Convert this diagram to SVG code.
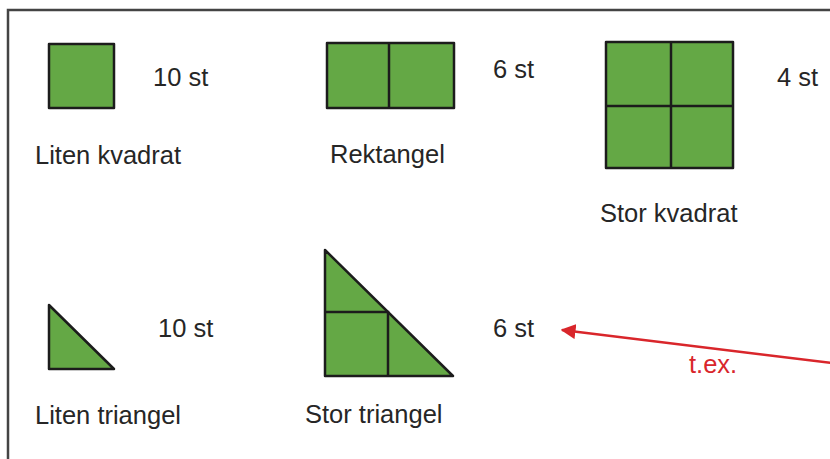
<svg xmlns="http://www.w3.org/2000/svg" width="830" height="459" viewBox="0 0 830 459">
<defs>
<style>
.shape{fill:#64a845;stroke:#1c1c1c;stroke-width:2.5;stroke-linejoin:round}
.div{fill:none;stroke:#1c1c1c;stroke-width:2.5}
text{font-family:"Liberation Sans",Arial,sans-serif;font-size:25.5px;fill:#262626}
.red{fill:#d9262b}
</style>
<marker id="ah" viewBox="0 0 10 10" refX="9" refY="5" markerWidth="6" markerHeight="6" orient="auto-start-reverse" markerUnits="strokeWidth">
<path d="M0,0 L10,5 L0,10 z" fill="#d9262b"/>
</marker>
</defs>
<rect width="830" height="459" fill="#ffffff"/>
<path d="M8,459 V10 H830" fill="none" stroke="#444" stroke-width="2.5"/>
<g id="liten-kvadrat">
<rect class="shape" x="49" y="44" width="65" height="64"/>
<text x="153" y="86">10 st</text>
<text x="35" y="164">Liten kvadrat</text>
</g>
<g id="rektangel">
<rect class="shape" x="327" y="43" width="127" height="65"/>
<line class="div" x1="389" y1="43" x2="389" y2="108"/>
<text x="493" y="78">6 st</text>
<text x="330" y="163">Rektangel</text>
</g>
<g id="stor-kvadrat">
<rect class="shape" x="606" y="42" width="127" height="126"/>
<line class="div" x1="671" y1="42" x2="671" y2="168"/>
<line class="div" x1="606" y1="106" x2="733" y2="106"/>
<text x="777" y="86">4 st</text>
<text x="600" y="222">Stor kvadrat</text>
</g>
<g id="liten-triangel">
<path class="shape" d="M49,305 L49,369 L114,369 Z"/>
<text x="158" y="337">10 st</text>
<text x="35" y="424">Liten triangel</text>
</g>
<g id="stor-triangel">
<path class="shape" d="M325,250 L325,376 L453,376 Z"/>
<path class="div" d="M325,312 H388 V376"/>
<text x="493" y="337">6 st</text>
<text x="305" y="423">Stor triangel</text>
</g>
<g id="connectors">
<line x1="832" y1="363" x2="562" y2="330" stroke="#d9262b" stroke-width="2.5" marker-end="url(#ah)"/>
<text class="red" x="689" y="373">t.ex.</text>
</g>
</svg>
